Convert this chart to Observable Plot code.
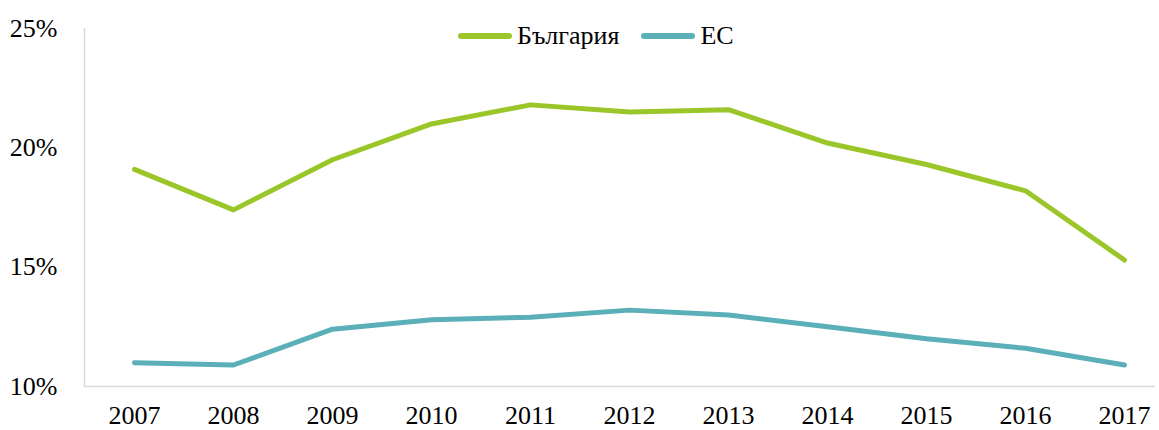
<!DOCTYPE html>
<html><head><meta charset="utf-8">
<script src="https://cdn.jsdelivr.net/npm/d3@7"></script>
<script src="https://cdn.jsdelivr.net/npm/@observablehq/plot@0.6"></script>
<style>
body{margin:0;background:#fff;font-family:"Liberation Serif","Times New Roman",serif;}
#wrap{position:relative;width:1159px;height:430px;}
#legend{position:absolute;top:21px;left:458px;display:flex;align-items:center;font-size:26px;color:#000;white-space:nowrap;}
.sw{display:inline-block;width:54px;height:6px;border-radius:3px;margin-right:5px;}
.it{display:flex;align-items:center;margin-right:22px;}
</style></head><body>
<div id="wrap"><div id="legend"></div></div>
<script>
const years = [2007,2008,2009,2010,2011,2012,2013,2014,2015,2016,2017];
const bulgaria = [19.1,17.4,19.5,21.0,21.8,21.5,21.6,20.2,19.3,18.2,15.3];
const eu = [11.0,10.9,12.4,12.8,12.9,13.2,13.0,12.5,12.0,11.6,10.9];
const seriesNames = ["България","ЕС"];
const colors = ["#9BC62A","#5AAFB8"];
const yTicks = [10,15,20,25];

const data = [];
years.forEach((y,i)=>{data.push({year:y,value:bulgaria[i],s:seriesNames[0]});data.push({year:y,value:eu[i],s:seriesNames[1]});});

const chart = Plot.plot({
  width:1159, height:430,
  marginLeft:84, marginRight:4, marginTop:28, marginBottom:44,
  insetLeft:50, insetRight:31,
  style:{fontFamily:"'Liberation Serif','Times New Roman',serif",fontSize:"26px",color:"#000",background:"#fff"},
  x:{type:"linear",domain:[2007,2017],ticks:years,tickFormat:d=>String(d),tickSize:0,tickPadding:19,label:null},
  y:{domain:[10,25],ticks:yTicks,tickFormat:d=>d+"%",tickSize:0,tickPadding:27,label:null},
  color:{domain:seriesNames,range:colors},
  marks:[
    Plot.ruleX([2007],{dx:-50,stroke:"#d9d9d9",strokeWidth:1.5}),
    Plot.ruleY([10],{stroke:"#d9d9d9",strokeWidth:1.5}),
    Plot.line(data,{x:"year",y:"value",z:"s",stroke:"s",strokeWidth:5,strokeLinecap:"round",strokeLinejoin:"round"})
  ]
});
document.getElementById("wrap").prepend(chart);
const lg=document.getElementById("legend");
seriesNames.forEach((n,i)=>{const d=document.createElement("div");d.className="it";d.innerHTML=`<span class="sw" style="background:${colors[i]}"></span><span>${n}</span>`;lg.appendChild(d);});
</script></body></html>
